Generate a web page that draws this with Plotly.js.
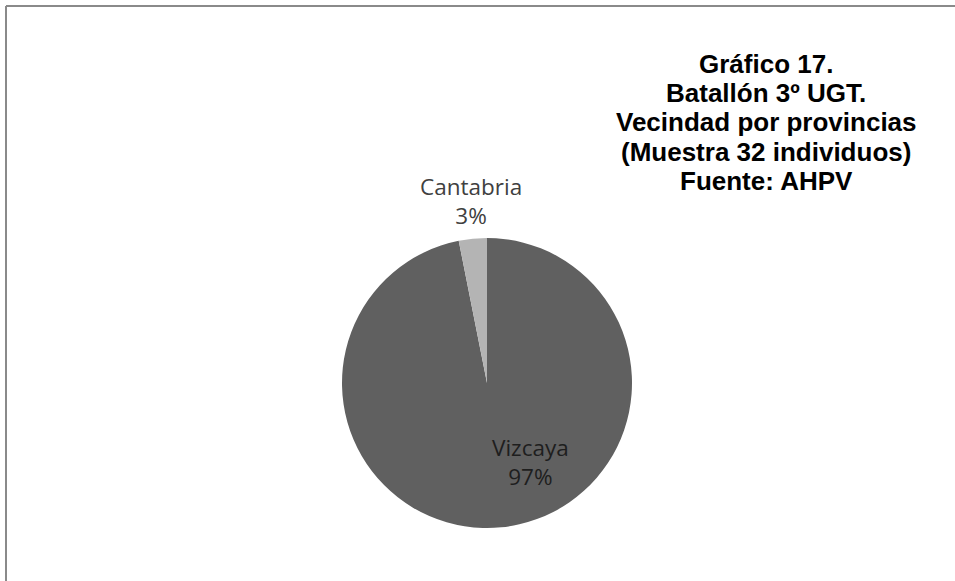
<!DOCTYPE html>
<html>
<head>
<meta charset="utf-8">
<script src="https://cdn.plot.ly/plotly-3.0.1.min.js"></script>
<style>html,body{margin:0;padding:0;background:#fff;}#chart{width:955px;height:581px;}</style>
</head>
<body>
<div id="chart"></div>
<script>
// Data
var categories = ["Vizcaya", "Cantabria"];
var counts = [31, 1];
var sliceColors = ["#606060", "#b4b4b4"];
var labelColors = ["#1e1e1e", "#404040"];
var titleLines = ["Gráfico 17.", "Batallón 3º UGT.", "Vecindad por provincias", "(Muestra 32 individuos)", "Fuente: AHPV"];

var W = 955, H = 581;
var cx = 487, cy = 383, r = 145;
var total = counts.reduce(function(a, b){ return a + b; }, 0);

// label anchor positions (pixels) for each category
var labelPos = [[530, 462], [471, 201]];

var annotations = categories.map(function(c, i){
  var pct = Math.round(counts[i] / total * 100);
  return {
    xref: 'paper', yref: 'paper',
    x: labelPos[i][0] / W, y: 1 - labelPos[i][1] / H,
    xanchor: 'center', yanchor: 'middle',
    text: c + '<br>' + pct + '%',
    showarrow: false,
    font: {family: 'Open Sans, Noto Sans, sans-serif', size: 22.5, color: labelColors[i]}
  };
});

// title lines, one annotation each (tighter line spacing than Plotly's default)
var titleX = 766, titleTop = 64, titleStep = 29.2;
titleLines.forEach(function(t, i){
  annotations.push({
    xref: 'paper', yref: 'paper',
    x: titleX / W, y: 1 - (titleTop + i * titleStep) / H,
    xanchor: 'center', yanchor: 'middle',
    text: '<b>' + t + '</b>',
    showarrow: false,
    font: {family: 'Liberation Sans, Arial, sans-serif', size: 26, color: '#000000'}
  });
});

var trace = {
  type: 'pie',
  labels: categories,
  values: counts,
  sort: false,
  direction: 'clockwise',
  rotation: 0,
  textinfo: 'none',
  hoverinfo: 'none',
  marker: {colors: sliceColors, line: {width: 0}},
  domain: {x: [(cx - r) / W, (cx + r) / W], y: [(H - cy - r) / H, (H - cy + r) / H]},
  showlegend: false
};

var layout = {
  width: W, height: H,
  margin: {l: 0, r: 0, t: 0, b: 0},
  paper_bgcolor: '#ffffff',
  showlegend: false,
  annotations: annotations,
  shapes: [
    {type: 'line', xref: 'paper', yref: 'paper', x0: 6 / W, x1: 1, y0: 1 - 6 / H, y1: 1 - 6 / H, line: {color: '#8a8a8a', width: 2}},
    {type: 'line', xref: 'paper', yref: 'paper', x0: 6 / W, x1: 6 / W, y0: 1 - 6 / H, y1: 0, line: {color: '#8a8a8a', width: 2}}
  ]
};

Plotly.newPlot('chart', [trace], layout, {staticPlot: true, displayModeBar: false});
</script>
</body>
</html>
